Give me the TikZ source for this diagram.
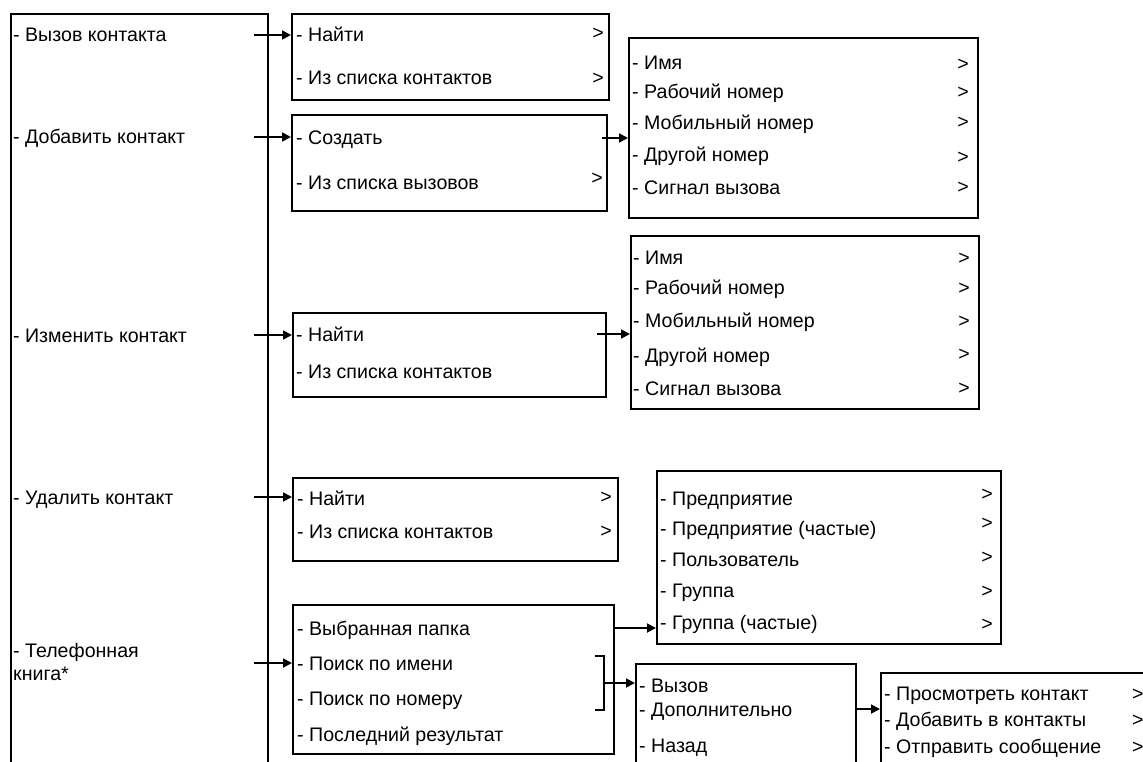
\documentclass[tikz,border=0pt]{standalone}
\usepackage{fontspec}
\setmainfont{Liberation Sans}
\usetikzlibrary{arrows.meta}

\begin{document}
\begin{tikzpicture}[x=1pt, y=-1pt,
    box/.style={draw, line width=2.4pt, anchor=north west, inner sep=0pt},
    item/.style={anchor=west, inner sep=0pt, text height=14pt, text depth=0pt,
      font=\fontsize{19.6}{23}\selectfont},
    more/.style={item, anchor=east},
    link/.style={line width=1.8pt, -{Triangle[length=9pt, width=9pt]}}]

    \useasboundingbox (0,0) rectangle (1143,762);
    \clip (0,0) rectangle (1143,762);

    % Main menu (runs off the bottom)
    \node[box, minimum width=257pt, minimum height=800pt] (menu) at (10,13) {};
    \node[item] (call) at (13,35) {- Вызов контакта};
    \node[item] (addc) at (13,137) {- Добавить контакт};
    \node[item] (editc) at (13,335) {- Изменить контакт};
    \node[item] (delc) at (13,497) {- Удалить контакт};
    \node[item] (booka) at (13,650) {- Телефонная};
    \node[item] (bookb) at (13,673) {книга*};

    % Call contact
    \node[box, minimum width=317pt, minimum height=86pt] (find1) at (291,13) {};
    \node[item] (f1a) at (296,35) {- Найти};
    \node[item] (f1b) at (296,78) {- Из списка контактов};
    \node[more] (f1x) at (604,33) {>};
    \node[more] (f1y) at (604,78) {>};

    % Add contact
    \node[box, minimum width=315pt, minimum height=96pt] (add1) at (291,114) {};
    \node[item] (create) at (296,138) {- Создать};
    \node[item] (fromcalls) at (296,183) {- Из списка вызовов};
    \node[more] (a1x) at (603,178) {>};

    % Fields after "Создать"
    \node[box, minimum width=349pt, minimum height=180pt] (fieldsA) at (628,37) {};
    \node[item] (nameA) at (632,63) {- Имя};
    \node[item] (workA) at (632,92) {- Рабочий номер};
    \node[item] (mobA) at (632,123) {- Мобильный номер};
    \node[item] (otherA) at (632,155) {- Другой номер};
    \node[item] (ringA) at (632,188) {- Сигнал вызова};
    \foreach \y [count=\i] in {64,92,122,157,187}
      \node[more] (gtA\i) at (969,\y) {>};

    % Edit contact
    \node[box, minimum width=313pt, minimum height=84pt] (edit1) at (292,312) {};
    \node[item] (e1a) at (296,334) {- Найти};
    \node[item] (e1b) at (296,371) {- Из списка контактов};

    % Fields after "Найти"
    \node[box, minimum width=348pt, minimum height=173pt] (fieldsB) at (630,235) {};
    \node[item] (nameB) at (633,257) {- Имя};
    \node[item] (workB) at (633,287) {- Рабочий номер};
    \node[item] (mobB) at (633,320) {- Мобильный номер};
    \node[item] (otherB) at (633,355) {- Другой номер};
    \node[item] (ringB) at (633,388) {- Сигнал вызова};
    \foreach \y [count=\i] in {257,287,320,353,387}
      \node[more] (gtB\i) at (970,\y) {>};

    % Delete contact
    \node[box, minimum width=325pt, minimum height=83pt] (del1) at (292,477) {};
    \node[item] (d1a) at (297,498) {- Найти};
    \node[item] (d1b) at (297,531) {- Из списка контактов};
    \node[more] (d1x) at (612,496) {>};
    \node[more] (d1y) at (612,530) {>};

    % Directories
    \node[box, minimum width=344pt, minimum height=173pt] (dir1) at (656,470) {};
    \node[item] (ent) at (660,498) {- Предприятие};
    \node[item] (entf) at (660,528) {- Предприятие (частые)};
    \node[item] (user) at (660,559) {- Пользователь};
    \node[item] (grp) at (660,590) {- Группа};
    \node[item] (grpf) at (660,622) {- Группа (частые)};
    \foreach \y [count=\i] in {493,522,556,590,623}
      \node[more] (gtC\i) at (993,\y) {>};

    % Phone book
    \node[box, minimum width=321pt, minimum height=149pt] (book1) at (292,604) {};
    \node[item] (fav) at (297,628) {- Выбранная папка};
    \node[item] (byname) at (297,663) {- Поиск по имени};
    \node[item] (bynum) at (297,698) {- Поиск по номеру};
    \node[item] (last) at (297,734) {- Последний результат};
    \draw[line width=1.5pt] (595,656) -- (604,656) -- (604,710) -- (595,710);
    \coordinate (brk) at (604,683);

    % Search result
    \node[box, minimum width=220pt, minimum height=200pt] (res1) at (635,663) {};
    \node[item] (dial) at (639,685) {- Вызов};
    \node[item] (extra) at (639,709) {- Дополнительно};
    \node[item] (back) at (639,745) {- Назад};

    % Options (runs off the edge)
    \node[box, minimum width=400pt, minimum height=200pt] (opt1) at (880,672) {};
    \node[item] (view) at (884,693) {- Просмотреть контакт};
    \node[item] (tocts) at (884,719) {- Добавить в контакты};
    \node[item] (msg) at (884,746) {- Отправить сообщение};
    \foreach \y [count=\i] in {693,719,746}
      \node[item] (gtD\i) at (1132,\y) {>};

    % Arrows
    \draw[link] (menu.east |- call) ++(-15,0) -- (find1.west |- call);
    \draw[link] (menu.east |- addc) ++(-15,0) -- (add1.west |- addc);
    \draw[link] (menu.east |- editc) ++(-15,0) -- (edit1.west |- editc);
    \draw[link] (menu.east |- delc) ++(-15,0) -- (del1.west |- delc);
    \draw[link] (menu.east |- byname) ++(-15,0) -- (book1.west |- byname);
    \draw[link] (add1.east |- create) ++(-6,0) -- (fieldsA.west |- create);
    \draw[link] (edit1.east |- e1a) ++(-10,0) -- (fieldsB.west |- e1a);
    \draw[link] (book1.east |- fav) -- (dir1.west |- fav);
    \draw[link] (brk) -- (res1.west |- brk);
    \draw[link] (res1.east |- extra) -- (opt1.west |- extra);
\end{tikzpicture}
\end{document}
